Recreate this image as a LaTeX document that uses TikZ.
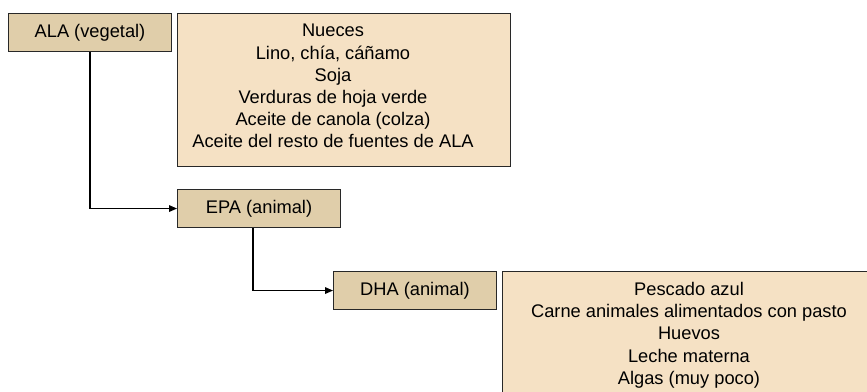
\documentclass[tikz,border=0pt]{standalone}
\usepackage{fontspec}
\setmainfont{Liberation Sans}
\usetikzlibrary{arrows.meta, positioning}
\definecolor{acidfill}{RGB}{224,206,170}
\definecolor{srcfill}{RGB}{245,225,196}
\definecolor{edge}{RGB}{40,40,40}

\begin{document}
\begin{tikzpicture}[
  x=0.75pt, y=-0.75pt,
  acid/.style={rectangle, draw=edge, line width=1pt, fill=acidfill, anchor=north west, minimum width=122pt, minimum height=28.3pt},
  srcbox/.style={rectangle, draw=edge, line width=1pt, fill=srcfill, anchor=north west, inner sep=0pt},
  srctext/.style={align=center, anchor=north, inner sep=0pt},
  arrow/.style={-{Triangle[length=6pt, width=5pt]}, line width=0.8pt},
  every node/.style={font=\fontsize{13.7pt}{16.65pt}\selectfont}
]
\clip (0,0) rectangle (867,392);

% Fatty acid boxes
\node[acid] (ALA) at (8,13) {ALA (vegetal)};
\node[acid] (EPA) at (177,189) {EPA (animal)};
\node[acid] (DHA) at (333,271) {DHA (animal)};

% Source boxes
\node[srcbox, minimum width=249.75pt, minimum height=114.75pt] (S1) at (177,13) {};
\node[srcbox, minimum width=285pt, minimum height=105pt] (S2) at (502,271) {};

\node[srctext] (L1) at (333,24) {Nueces\\Lino, chía, cáñamo\\Soja\\Verduras de hoja verde\\Aceite de canola (colza)\\Aceite del resto de fuentes de ALA};
\node[srctext] (L2) at (689,282) {Pescado azul\\Carne animales alimentados con pasto\\Huevos\\Leche materna\\Algas (muy poco)};

% Conversion arrows
\draw[arrow] (ALA.south) |- (EPA.west);
\draw[arrow] ([xshift=-4.5pt]EPA.south) |- (DHA.west);

\end{tikzpicture}
\end{document}
